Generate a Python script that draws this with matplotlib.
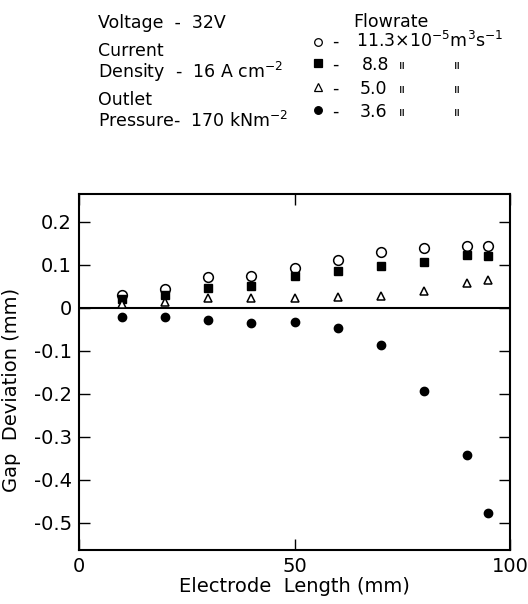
import matplotlib
matplotlib.use("Agg")
import matplotlib.pyplot as plt
from matplotlib.lines import Line2D

plt.rcParams['font.family'] = ['DejaVu Sans']

# Data
length_mm = [10, 20, 30, 40, 50, 60, 70, 80, 90, 95]
dev_113 = [0.031, 0.045, 0.071, 0.075, 0.092, 0.112, 0.129, 0.140, 0.145, 0.145]
dev_88 = [0.020, 0.031, 0.046, 0.052, 0.075, 0.085, 0.098, 0.106, 0.122, 0.121]
dev_50 = [0.008, 0.013, 0.022, 0.022, 0.023, 0.025, 0.027, 0.040, 0.058, 0.064]
dev_36 = [-0.021, -0.022, -0.027, -0.035, -0.032, -0.046, -0.087, -0.193, -0.343, -0.476]

yticks = [0.2, 0.1, 0, -0.1, -0.2, -0.3, -0.4, -0.5]
ytick_labels = ['0.2', '0.1', '0', '-0.1', '-0.2', '-0.3', '-0.4', '-0.5']
xticks = [0, 50, 100]
xtick_labels = ['0', '50', '100']

W, H = 528, 604
fig = plt.figure(figsize=(W / 100, H / 100), dpi=100)
ax = fig.add_axes([79 / W, 1 - 550 / H, 431 / W, (550 - 194) / H])

fs = 14
hfs = 12.5
ax.plot(length_mm, dev_113, 'o', mfc='white', mec='black', mew=1.1, ms=7, zorder=3)
ax.plot(length_mm, dev_88, 's', color='black', ms=6, zorder=4)
ax.plot(length_mm, dev_50, '^', mfc='white', mec='black', mew=1.1, ms=6, zorder=5)
ax.plot(length_mm, dev_36, 'o', color='black', ms=6, zorder=3)

ax.axhline(0, color='black', lw=1.5, zorder=2)

ax.set_xlim(0, 100)
ax.set_ylim(-0.563, 0.265)
ax.set_xticks(xticks)
ax.set_xticklabels(xtick_labels, fontsize=fs)
ax.set_yticks(yticks)
ax.set_yticklabels(ytick_labels, fontsize=fs)
ax.tick_params(axis='both', direction='in', length=8, width=1, right=True, top=True, pad=5)
for s in ax.spines.values():
    s.set_linewidth(1.5)

ax.set_xlabel('Electrode  Length (mm)', fontsize=fs, labelpad=1)
ax.set_ylabel('Gap  Deviation (mm)', fontsize=fs, labelpad=1)
ax.yaxis.set_label_coords(-0.135, 0.45)

# Header text (baselines)
def ht(x, y, s, **kw):
    fig.text(x / W, 1 - y / H, s, fontsize=hfs, va='baseline', ha='left', **kw)

ht(98, 28, 'Voltage  -  32V')
ht(98, 56, 'Current')
ht(98, 78, r'Density  -  16 A cm$^{-2}$')
ht(98, 105, 'Outlet')
ht(98, 127, r'Pressure-  170 kNm$^{-2}$')

ht(353, 27, 'Flowrate')
rows = [
    (42, 47, 'o', 'white', r'11.3$\times$10$^{-5}$m$^{3}$s$^{-1}$', 356, False),
    (63, 70, 's', 'black', '8.8', 362, True),
    (87, 94, '^', 'white', '5.0', 360, True),
    (110, 117, 'o', 'black', '3.6', 360, True),
]
for my, by, m, fc, txt, tx, ditto in rows:
    fig.add_artist(Line2D([318 / W], [1 - my / H], marker=m, mfc=fc, mec='black',
                          ms=5.5, mew=0.9, ls='none', transform=fig.transFigure))
    ht(332, by, '-')
    ht(tx, by, txt)
    if ditto:
        for dx in (402, 457):
            fig.text(dx / W, 1 - (by - 1) / H, '\u0131\u0131', fontsize=9,
                     va='baseline', ha='center')

fig.savefig('out.png', dpi=100)
